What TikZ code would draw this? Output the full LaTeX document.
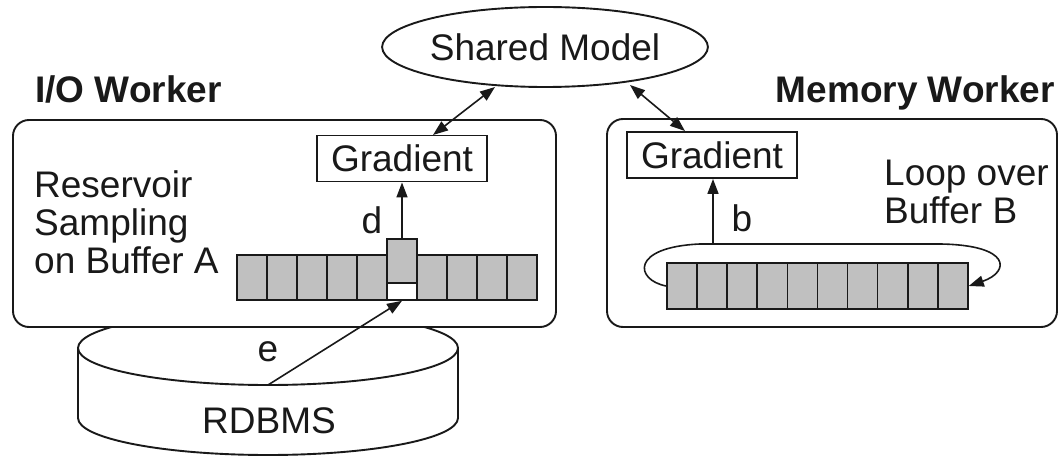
\documentclass[tikz,border=0pt]{standalone}
\usepackage{fontspec}
\setmainfont{Liberation Sans}
\usetikzlibrary{arrows.meta,shapes.geometric}
\definecolor{cellgray}{RGB}{192,192,192}
\definecolor{ink}{RGB}{25,25,25}
\tikzset{
  base/.style={line width=1.9pt, draw=ink},
  txt/.style={font=\fontsize{37}{38}\selectfont, inner sep=0pt, text=ink},
  worker/.style={base, rounded corners=16pt, fill=white},
  title/.style={font=\fontsize{37}{38}\selectfont\bfseries, inner sep=0pt, text=ink},
  gradbox/.style={base, minimum width=170pt, minimum height=46pt, inner sep=0pt, font=\fontsize{37}{38}\selectfont, text=ink},
  cell/.style={base, line width=1.6pt, fill=cellgray, minimum width=30pt, minimum height=45pt, inner sep=0pt},
  tip/.style={-{Triangle[length=15pt,width=11pt]}},
  biarrow/.style={base, line width=1.6pt, {Triangle[length=15pt,width=11pt]}-{Triangle[length=15pt,width=11pt]}},
}
\begin{document}
\begin{tikzpicture}[x=1pt,y=-1pt]
\useasboundingbox (0,0) rectangle (1060,457);

% database cylinder (drawn first, the worker box covers its top)
\coordinate (dbtop) at (268,385);
\draw[base, fill=white] (78,348) -- (78,418) arc[start angle=180,end angle=0,x radius=190,y radius=37]
  -- (458,348);
\draw[base, fill=white] (268,348) ellipse[x radius=190, y radius=37];
\node[txt] (rdbms) at (269,421) {RDBMS};

% worker boxes
\draw[worker] (13,120) rectangle (556,327);
\draw[worker] (607,119) rectangle (1057,327);
\node[title, anchor=base west] (iow) at (35,103) {I/O Worker};
\node[title, anchor=base east] (memw) at (1055,103) {Memory Worker};

% shared model
\node[base, ellipse, minimum width=305pt, minimum height=80pt, inner sep=0pt, txt] (model) at (545,47) {Shared Model};

% gradients
\node[gradbox] (gradA) at (402,158.5) {Gradient};
\node[gradbox] (gradB) at (712,155) {Gradient};

% side texts (base anchor sits on the last line)
\node[txt, anchor=base west, align=left] (reservoir) at (34,273) {Reservoir\\Sampling\\on Buffer A};
\node[txt, anchor=base west, align=left] (loopover) at (884,223) {Loop over\\Buffer B};

% buffer A
\foreach \i in {0,...,9} {
  \ifnum\i=5\relax\else
    \node[cell] (a\i) at ({252+30*\i},277.5) {};
  \fi
}
\node[base, line width=1.6pt, fill=white, minimum width=30pt, minimum height=17pt, inner sep=0pt] (slot) at (402,291.5) {};
\node[cell, minimum height=44pt] (a5) at (402,261) {};

% buffer B
\foreach \i in {0,...,9} {
  \node[cell, minimum width=30.1pt, minimum height=46pt] (b\i) at ({682+30.1*\i},286) {};
}

% loop around buffer B
\coordinate (looptop) at (713,244);
\draw[base, line width=1.6pt, tip] (b0.west) .. controls (635,280) and (630,247) .. (700,244)
  -- (940,244) .. controls (1012,245) and (1010,272) .. (b9.east);

% arrows
\coordinate (modelA) at (495,87);
\coordinate (modelB) at (630,85);
\coordinate (gradAtop) at (433,135);
\coordinate (gradBtop) at (685,131);
\draw[base, line width=1.6pt, tip] (a5.north) -- (gradA.south);
\draw[base, line width=1.6pt, tip] (looptop) -- (gradB.south -| looptop);
\draw[base, line width=1.6pt, tip] (dbtop) -- (slot.south);
\draw[biarrow] (gradAtop) -- (modelA);
\draw[biarrow] (modelB) -- (gradBtop);

% arrow labels
\node[txt] (ld) at (372,220) {d};
\node[txt] (lb) at (742,218) {b};
\node[txt] (le) at (268,352) {e};
\end{tikzpicture}
\end{document}
